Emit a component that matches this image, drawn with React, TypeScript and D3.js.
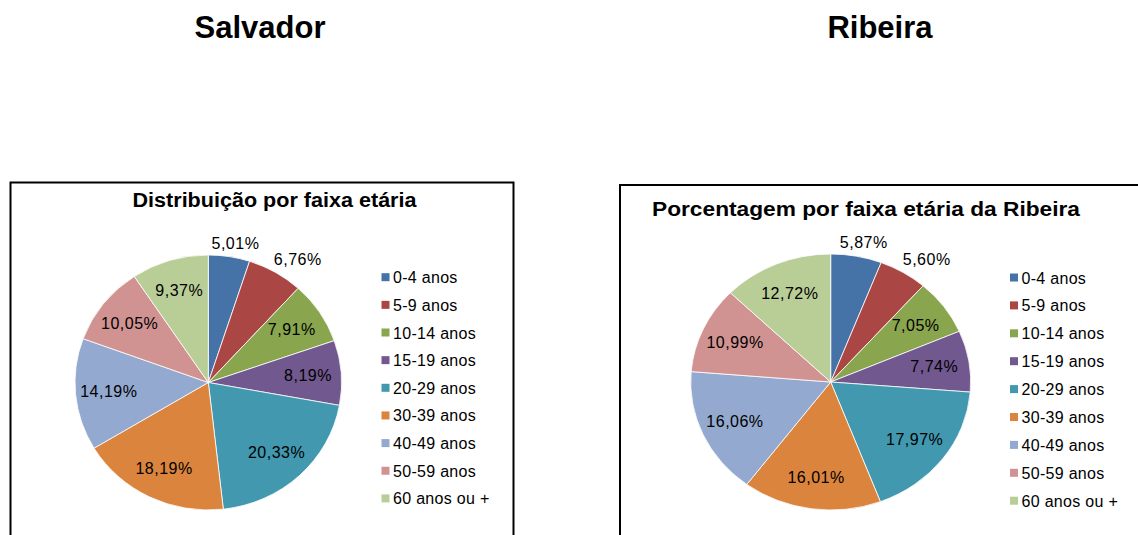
import React from "react";
import * as d3 from "d3";

const categories = [
  "0-4 anos",
  "5-9 anos",
  "10-14 anos",
  "15-19 anos",
  "20-29 anos",
  "30-39 anos",
  "40-49 anos",
  "50-59 anos",
  "60 anos ou +",
];

const salvadorValues = [5.01, 6.76, 7.91, 8.19, 20.33, 18.19, 14.19, 10.05, 9.37];
const ribeiraValues = [5.87, 5.6, 7.05, 7.74, 17.97, 16.01, 16.06, 10.99, 12.72];

const colors = [
  "#4572A7",
  "#AA4643",
  "#89A54E",
  "#71588F",
  "#4198AF",
  "#DB843D",
  "#93A9CF",
  "#D19392",
  "#B9CD96",
];

const FONT = "'Liberation Sans', Arial, sans-serif";

const fmt = (v: number) => v.toFixed(2).replace(".", ",") + "%";

type PieProps = {
  values: number[];
  cx: number;
  cy: number;
  rx: number;
  ry: number;
  legendX: number;
  legendY: number;
  legendStep: number;
};

const Pie = ({ values, cx, cy, rx, ry, legendX, legendY, legendStep }: PieProps) => {
  const pie = d3.pie<number>().sort(null).value((d) => d);
  const arcs = pie(values);
  const arc = d3.arc<d3.PieArcDatum<number>>().innerRadius(0).outerRadius(ry);

  const clamp = (v: number) => Math.max(-1, Math.min(1, v));

  return (
    <g>
      <g transform={`translate(${cx},${cy}) scale(${rx / ry},1)`}>
        {arcs.map((a, i) => (
          <path
            key={i}
            d={arc(a) || ""}
            fill={colors[i]}
            stroke="#fff"
            strokeWidth={0.8}
            vectorEffect="non-scaling-stroke"
          />
        ))}
      </g>
      {arcs.map((a, i) => {
        const mid = (a.startAngle + a.endAngle) / 2;
        const s = Math.sin(mid);
        const c = Math.cos(mid);
        let x: number;
        let y: number;
        if (a.data < 7) {
          // small slices: label outside, touching the rim
          const px = cx + rx * 1.06 * s;
          const py = cy - ry * 1.06 * c;
          const ks = clamp((s / Math.max(Math.abs(c), 0.001)) * 1.5);
          const kc = clamp((c / Math.max(Math.abs(s), 0.001)) * 1.5);
          x = px + 21 * ks;
          y = py - 6 * kc;
        } else {
          x = cx + rx * 0.75 * s;
          y = cy - ry * 0.75 * c;
        }
        return (
          <text
            key={i}
            x={x}
            y={y}
            textAnchor="middle"
            dominantBaseline="central"
            fontFamily={FONT}
            fontSize={16}
            letterSpacing={0.5}
            fill="#000"
          >
            {fmt(a.data)}
          </text>
        );
      })}
      {categories.map((name, i) => (
        <g key={name} transform={`translate(${legendX},${legendY + i * legendStep})`}>
          <rect x={0} y={-4.5} width={8} height={8} fill={colors[i]} />
          <text
            x={11.5}
            y={0}
            dominantBaseline="central"
            fontFamily={FONT}
            fontSize={16}
            letterSpacing={0.3}
            fill="#000"
          >
            {name}
          </text>
        </g>
      ))}
    </g>
  );
};

export default function App() {
  return (
    <svg
      width={1138}
      height={535}
      style={{ position: "absolute", left: 0, top: 0, background: "#fff" }}
    >
      <text x={260} y={38} textAnchor="middle" fontFamily={FONT} fontWeight="bold" fontSize={31}>
        Salvador
      </text>
      <text x={880} y={38} textAnchor="middle" fontFamily={FONT} fontWeight="bold" fontSize={31}>
        Ribeira
      </text>

      <rect x={10.5} y={182.5} width={503} height={380} fill="#fff" stroke="#000" strokeWidth={2} />
      <rect x={620} y={185} width={540} height={380} fill="#fff" stroke="#000" strokeWidth={2} />

      <text
        x={274.5}
        y={207}
        textAnchor="middle"
        fontFamily={FONT}
        fontWeight="bold"
        fontSize={20}
        textLength={284}
        lengthAdjust="spacingAndGlyphs"
      >
        Distribuição por faixa etária
      </text>
      <text
        x={866}
        y={215.5}
        textAnchor="middle"
        fontFamily={FONT}
        fontWeight="bold"
        fontSize={20}
        textLength={428}
        lengthAdjust="spacingAndGlyphs"
      >
        Porcentagem por faixa etária da Ribeira
      </text>

      <Pie
        values={salvadorValues}
        cx={208.3}
        cy={382.5}
        rx={133.3}
        ry={127.5}
        legendX={381.5}
        legendY={277.7}
        legendStep={27.65}
      />
      <Pie
        values={ribeiraValues}
        cx={830.7}
        cy={382}
        rx={140}
        ry={128}
        legendX={1010}
        legendY={278}
        legendStep={27.9}
      />
    </svg>
  );
}
